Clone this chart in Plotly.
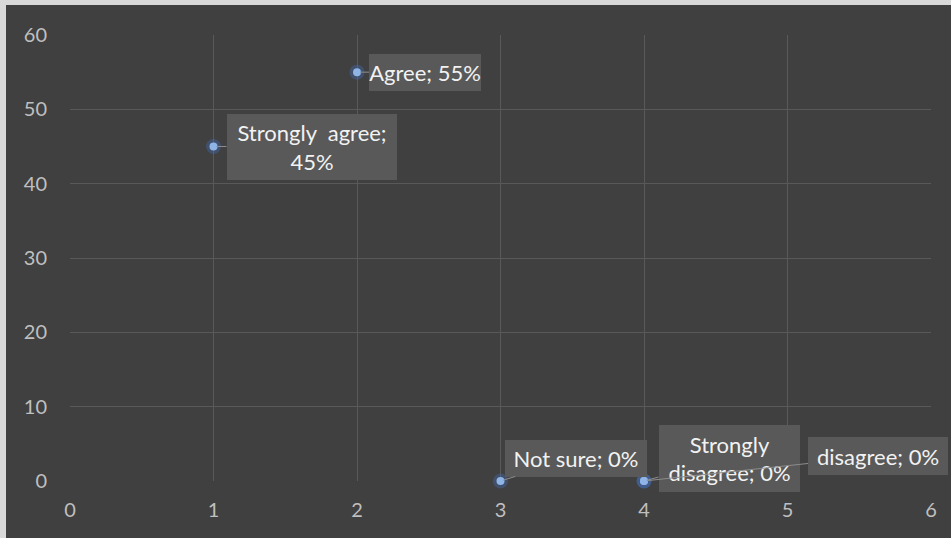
import plotly.graph_objects as go

# ---- data ----
categories = ["Strongly  agree", "Agree", "Not sure", "Strongly disagree", "disagree"]
x_vals = [1, 2, 3, 4, 4]
y_vals = [45, 55, 0, 0, 0]
pct_labels = ["45%", "55%", "0%", "0%", "0%"]
x_ticks = [0, 1, 2, 3, 4, 5, 6]
y_ticks = [0, 10, 20, 30, 40, 50, 60]

# ---- label layout (positions/sizes only) ----
line_break_after = ["label", None, None, "first_word", None]
label_dx = [98, 68, 75, 85, 234]
label_dy = [0, 0, -23, -23, -25]
label_w = [170, 112, 142, 141, 140]
label_h = [66, 37, 37, 67, 38]

BG = "#404040"
GRID = "#595959"
TICK = "#bfbfbf"
BOX = "#595959"
FONT = "Lato"


def make_label(cat, pct, mode):
    cat = cat.replace("  ", "\u00a0 ")
    if mode == "label":
        return f"{cat};<br>{pct}"
    if mode == "first_word":
        first, rest = cat.split(" ", 1)
        return f"{first}<br>{rest}; {pct}"
    return f"{cat}; {pct}"


fig = go.Figure()
# glow
fig.add_trace(go.Scatter(
    x=x_vals, y=y_vals, mode="markers",
    marker=dict(size=15, color="rgba(68,114,196,0.35)", line=dict(width=0)),
    hoverinfo="skip", cliponaxis=False, showlegend=False))
fig.add_trace(go.Scatter(
    x=x_vals, y=y_vals, mode="markers",
    marker=dict(size=8, color="#8fb4e6", line=dict(width=0)),
    cliponaxis=False, showlegend=False))

for i in range(len(categories)):
    fig.add_annotation(
        x=x_vals[i], y=y_vals[i], xref="x", yref="y",
        text=make_label(categories[i], pct_labels[i], line_break_after[i]),
        showarrow=True, arrowhead=0, arrowwidth=1, arrowcolor="#8c8c8c",
        standoff=3,
        ax=label_dx[i], ay=label_dy[i], axref="pixel", ayref="pixel",
        bgcolor=BOX, borderwidth=0, borderpad=0,
        width=label_w[i], height=label_h[i], align="center", valign="middle",
        font=dict(family=FONT, size=22, color="#f2f2f2"))

# light frame strips (left and top)
fig.add_shape(type="rect", xref="paper", yref="paper", xsizemode="pixel",
              xanchor=0, x0=-72, x1=-64, y0=-0.3, y1=1.3,
              fillcolor="#d9d9d9", line=dict(width=0), layer="above")
fig.add_shape(type="rect", xref="paper", yref="paper", ysizemode="pixel",
              yanchor=1, y0=30, y1=40, x0=-0.2, x1=1.2,
              fillcolor="#d9d9d9", line=dict(width=0), layer="above")

fig.update_layout(
    width=951, height=538,
    margin=dict(l=70, r=20, t=35, b=57),
    paper_bgcolor=BG, plot_bgcolor=BG,
    font=dict(family=FONT, color=TICK, size=20),
    xaxis=dict(range=[0, 6], tickvals=x_ticks, showgrid=True, gridcolor=GRID,
               gridwidth=1, zeroline=False, showline=False, ticks="",
               ticklabelstandoff=15, tickfont=dict(size=20, color=TICK)),
    yaxis=dict(range=[0, 60], tickvals=y_ticks, showgrid=True, gridcolor=GRID,
               gridwidth=1, zeroline=False, showline=False, ticks="",
               ticklabelstandoff=22, tickfont=dict(size=20, color=TICK)),
)

fig.write_html("out.html",
               config={"displayModeBar": False},
               post_script="document.body.style.margin='0px';")
